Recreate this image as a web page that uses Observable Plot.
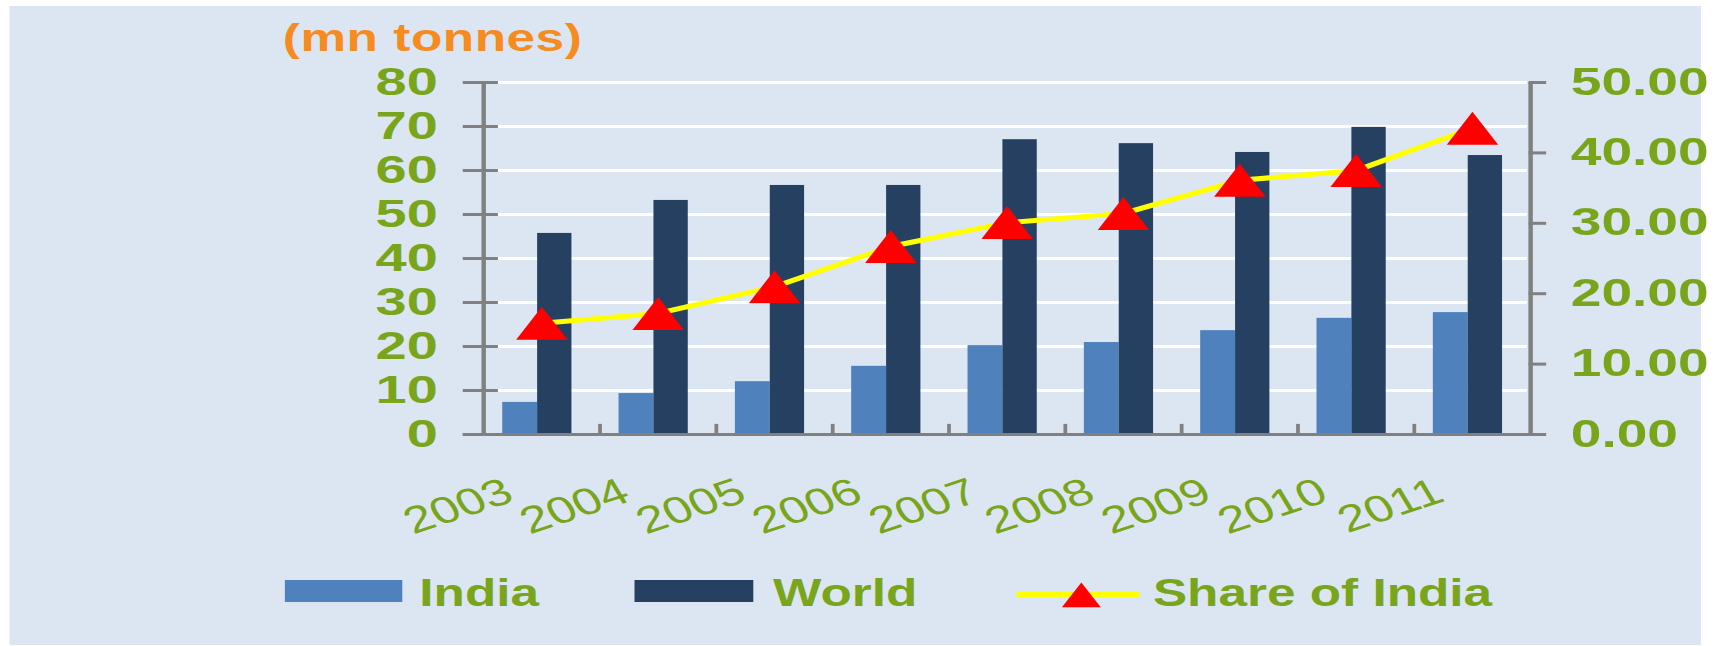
<!DOCTYPE html>
<html><head><meta charset="utf-8">
<script src="https://cdn.jsdelivr.net/npm/d3@7"></script>
<script src="https://cdn.jsdelivr.net/npm/@observablehq/plot@0.6"></script>
<style>
html,body{margin:0;padding:0;background:#fff;overflow:hidden;}
body{width:1720px;height:646px;font-family:"Liberation Sans",Arial,sans-serif;}
#wrap{position:relative;width:1274px;height:646px;transform:scaleX(1.35);transform-origin:0 0;}
#panel{position:absolute;left:6.7px;top:6px;width:1253.3px;height:639px;background:#DCE6F2;}
#title{position:absolute;left:209.5px;top:18.5px;font-size:38px;line-height:38px;font-weight:bold;color:#F68B1F;white-space:nowrap;letter-spacing:0.4px;}
#chart{position:absolute;left:0;top:60px;}
.lg{position:absolute;}
.lgtext{font-size:38px;line-height:38px;font-weight:bold;color:#79A51B;top:573.8px;white-space:nowrap;}
</style></head><body>
<div id="wrap">
  <div id="panel"></div>
  <div id="title">(mn tonnes)</div>
  <div id="chart"></div>
  <div id="legend"></div>
</div>
<script>
const years = ["2003","2004","2005","2006","2007","2008","2009","2010","2011"];
const india = [7.3, 9.3, 12.0, 15.5, 20.2, 20.9, 23.6, 26.4, 27.7];
const world = [45.7, 53.2, 56.6, 56.6, 67.0, 66.1, 64.1, 69.8, 63.4];
const shareOfIndia = [15.8, 17.2, 21.0, 26.7, 30.1, 31.4, 36.1, 37.5, 43.5];
const leftTicks = [0, 10, 20, 30, 40, 50, 60, 70, 80];
const rightTicks = [0, 10, 20, 30, 40, 50];
const seriesNames = ["India", "World", "Share of India"];
const titleText = "(mn tonnes)";

const C = {india: "#4F81BD", world: "#254061", line: "#FFFF00", marker: "#FF0000",
           axis: "#808080", grid: "#FFFFFF", green: "#79A51B"};
const k = 80 / 50; // right axis (0-50) mapped onto left axis (0-80)
const n = years.length;
const xDomain = [-0.5, n - 0.5];
const shift = -0.035, barW = 0.30;

const rows = years.map((year, i) => ({i, year, india: india[i], world: world[i], share: shareOfIndia[i]}));

document.getElementById("title").textContent = titleText;

const plot = Plot.plot({
  width: 1274, height: 490,
  marginTop: 22, marginBottom: 116, marginLeft: 357.8, marginRight: 140.7,
  style: {background: "transparent", fontFamily: "Liberation Sans, Arial, sans-serif", overflow: "visible"},
  x: {domain: xDomain, axis: null},
  y: {domain: [0, 80], axis: null},
  marks: [
    Plot.ruleY(leftTicks.filter(d => d > 0), {y: d => d, stroke: C.grid, strokeWidth: 3, insetLeft: 11, insetRight: 2.3}),
    Plot.rect(rows, {x1: d => d.i + shift - barW, x2: d => d.i + shift, y1: 0, y2: "india", fill: C.india}),
    Plot.rect(rows, {x1: d => d.i + shift, x2: d => d.i + shift + barW - 0.005, y1: 0, y2: "world", fill: C.world}),
    Plot.ruleX(xDomain, {x: d => d, y1: 0, y2: 80, stroke: C.axis, strokeWidth: 3.3}),
    Plot.ruleX(d3.range(1, n).map(i => i - 0.5), {x: d => d, y1: 0, y2: 2.3, stroke: C.axis, strokeWidth: 2.8}),
    Plot.ruleY([0], {y: d => d, stroke: C.axis, strokeWidth: 3.2, insetLeft: -15, insetRight: -11}),
    Plot.line(rows, {x: "i", y: d => d.share * k, stroke: C.line, strokeWidth: 5}),
    Plot.dot(rows, {x: "i", y: d => d.share * k, symbol: "triangle", r: 14.15, fill: C.marker, stroke: "none", dy: 5.5}),
    Plot.axisY(leftTicks, {anchor: "left", tickSize: 26, dx: 11, tickPadding: 19, stroke: C.axis, strokeWidth: 3,
      fill: C.green, fontSize: 38, fontWeight: "bold", label: null, tickFormat: d => String(d)}),
    Plot.axisY(rightTicks.map(d => d * k), {anchor: "right", tickSize: 13, dx: -2, tickPadding: 18.7, stroke: C.axis, strokeWidth: 3,
      fill: C.green, fontSize: 38, fontWeight: "bold", label: null, tickFormat: d => (d / k).toFixed(2)}),
    Plot.text(rows, {x: "i", y: 0, text: "year", rotate: -24, textAnchor: "end", lineAnchor: "bottom",
      dx: -19, dy: 66, fill: C.green, fontSize: 37.5, fontWeight: "normal"})
  ]
});
// widen tick labels slightly about their anchor, as in the reference artwork
d3.select(plot).selectAll('g[aria-label="y-axis tick label"]').each(function() {
  const g = d3.select(this);
  const sx = g.attr("text-anchor") === "start" ? 1.075 : 1.09;
  g.selectAll("text").each(function() {
    const t = d3.select(this);
    let tr = t.attr("transform");
    if (!tr) {
      const x = +(t.attr("x") || 0), y = +(t.attr("y") || 0);
      t.attr("x", null).attr("y", null);
      tr = `translate(${x},${y})`;
    }
    t.attr("transform", `${tr} scale(${sx},1)`);
  });
});
document.getElementById("chart").appendChild(plot);

// legend
const lg = document.getElementById("legend");
function add(html) { lg.insertAdjacentHTML("beforeend", html); }
add(`<div class="lg" style="left:211.1px;top:580px;width:87.4px;height:22px;background:${C.india}"></div>`);
add(`<div class="lg lgtext" style="left:310.6px">${seriesNames[0]}</div>`);
add(`<div class="lg" style="left:470.4px;top:580px;width:88px;height:22px;background:${C.world}"></div>`);
add(`<div class="lg lgtext" style="left:572.6px">${seriesNames[1]}</div>`);
add(`<div class="lg" style="left:753.3px;top:591.5px;width:91px;height:5px;background:${C.line}"></div>`);
const tri = d3.symbol(d3.symbolTriangle, 358)();
add(`<svg class="lg" style="left:785.7px;top:584.3px;overflow:visible" width="30" height="30"><path transform="translate(15,15)" d="${tri}" fill="${C.marker}"/></svg>`);
add(`<div class="lg lgtext" style="left:854px">${seriesNames[2]}</div>`);
</script>
</body></html>
